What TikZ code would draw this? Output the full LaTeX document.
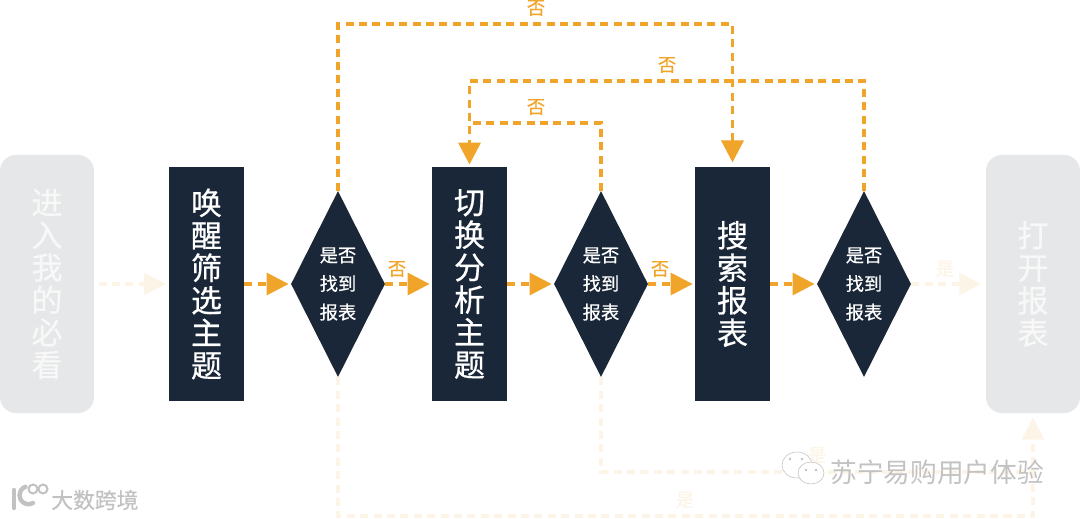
\documentclass[tikz,border=0pt]{standalone}
\usepackage{fontspec}
\setmainfont{Noto Sans CJK SC}
\newfontfamily\medfont[FakeBold=0.6]{Noto Sans CJK SC}
\usetikzlibrary{positioning, arrows.meta, shapes.geometric}
\definecolor{cNavy}{HTML}{1A2739}
\definecolor{cOrange}{HTML}{F0A52A}
\definecolor{cFade}{HTML}{FDF4E8}
\definecolor{cPale}{HTML}{E6E7E9}
\definecolor{cMark}{HTML}{C2C2C2}

\begin{document}
\begin{tikzpicture}[
    x=0.025cm, y=-0.025cm,
    >={Triangle[length=0.55cm,width=0.55cm]},
    topic/.style={
        fill=cNavy, text=white, minimum width=1.875cm, minimum height=5.85cm,
        inner sep=0pt, align=center, font=\medfont\fontsize{22}{23.1}\selectfont
    },
    ends/.style={
        fill=cPale, text=white!70!cPale, rounded corners=0.4cm, minimum width=2.35cm,
        minimum height=6.45cm, inner sep=0pt, align=center,
        font=\medfont\fontsize{22}{23.1}\selectfont
    },
    check/.style={
        diamond, fill=cNavy, text=white, aspect=0.5, inner sep=0pt,
        minimum width=2.35cm, minimum height=4.65cm, align=center,
        font=\medfont\fontsize{13}{20.3}\selectfont
    },
    arr/.style={line width=0.085cm, draw=cOrange, dash pattern=on 0.2cm off 0.135cm},
    farr/.style={arr, draw=cFade},
    lab/.style={font=\medfont\fontsize{13}{14}\selectfont, text=cOrange, inner sep=0pt},
    flab/.style={lab, text=cFade},
    wmark/.style={font=\fontsize{19}{21}\selectfont, text=cMark, inner sep=0pt},
    bubble/.style={draw=cMark, fill=white, line width=0.4pt},
]
\useasboundingbox (0,0) rectangle (1080,519);

% =============================================
% START / END
% =============================================
\node[ends] (enter) at (47, 284) {进\\入\\我\\的\\必\\看};
\node[ends] (open) at (1033, 284) {打\\开\\报\\表};

% =============================================
% TOPICS + CHECKS
% =============================================
\node[topic] (wake) at (206.5, 284) {唤\\醒\\筛\\选\\主\\题};
\node[check] (checka) at (338, 284) {是否\\找到\\报表};
\node[topic] (swap) at (469.5, 284) {切\\换\\分\\析\\主\\题};
\node[check] (checkb) at (601, 284) {是否\\找到\\报表};
\node[topic] (search) at (732.5, 284) {搜\\索\\报\\表};
\node[check] (checkc) at (864, 284) {是否\\找到\\报表};

% bends of the long connectors
\coordinate (topa) at (530, 24);
\coordinate (topb) at (660, 81);
\coordinate (topc) at (536, 123);
\coordinate (lowa) at (685, 516);
\coordinate (lowb) at (1032, 472);

% =============================================
% FADED "YES" ROUTES (under everything else)
% =============================================
\draw[farr, ->, shorten <=3pt, shorten >=2pt] (enter.east) -- (wake.west);
\draw[farr, ->, shorten >=3pt] (checkc.east) -- (open.west);
\draw[farr] (checkb.south) |- (lowb);
\draw[farr, ->, shorten >=3pt] (checka.south) |- (lowa) -| (open.south);

% =============================================
% "NO" ROUTES
% =============================================
\draw[arr, ->, shorten >=1.5pt] (wake.east) -- (checka.west);
\draw[arr, ->, shorten >=1.5pt] (checka.east) -- (swap.west);
\draw[arr, ->, shorten >=1.5pt] (swap.east) -- (checkb.west);
\draw[arr, ->, shorten >=1.5pt] (checkb.east) -- (search.west);
\draw[arr, ->, shorten >=1.5pt] (search.east) -- (checkc.west);

\draw[arr, ->, shorten >=3pt] (checka.north) |- (topa) -| (search.north);
\draw[arr, ->, shorten >=1.5pt] (checkc.north) |- (topb) -| (swap.north);
\draw[arr] (checkb.north) |- (topc) -- (swap.north |- topc);

% labels
\node[lab] (noa) at (536, 8) {否};
\node[lab] (nob) at (667, 65) {否};
\node[lab] (noc) at (536, 107) {否};
\node[lab] (nod) at (397, 269) {否};
\node[lab] (noe) at (660, 269) {否};
\node[flab] (yesa) at (945, 269) {是};
\node[flab] (yesb) at (817, 455) {是};
\node[flab] (yesc) at (685, 500) {是};

% =============================================
% WATERMARKS
% =============================================
\draw[bubble] (797, 465) ellipse (15 and 13);
\draw[bubble] (811, 473) ellipse (13 and 11);
\foreach \x/\y in {790/459, 802/459, 806/470, 816/470} {
    \fill[cMark] (\x, \y) circle (1.3);
}
\node[wmark, anchor=west] (marka) at (830, 472) {苏宁易购用户体验};

\draw[cMark, line width=0.11cm, line cap=round] (14, 490) -- (14, 508);
\draw[cMark, line width=0.11cm, line cap=round] (33, 503) arc (60:250:9);
\draw[bubble, line width=0.05cm] (33, 489) circle (4.5);
\draw[bubble, line width=0.05cm] (43, 489) circle (4.5);
\node[wmark, anchor=west, font=\medfont\fontsize{15.5}{17}\selectfont] (markb) at (51, 500) {大数跨境};
\end{tikzpicture}
\end{document}
